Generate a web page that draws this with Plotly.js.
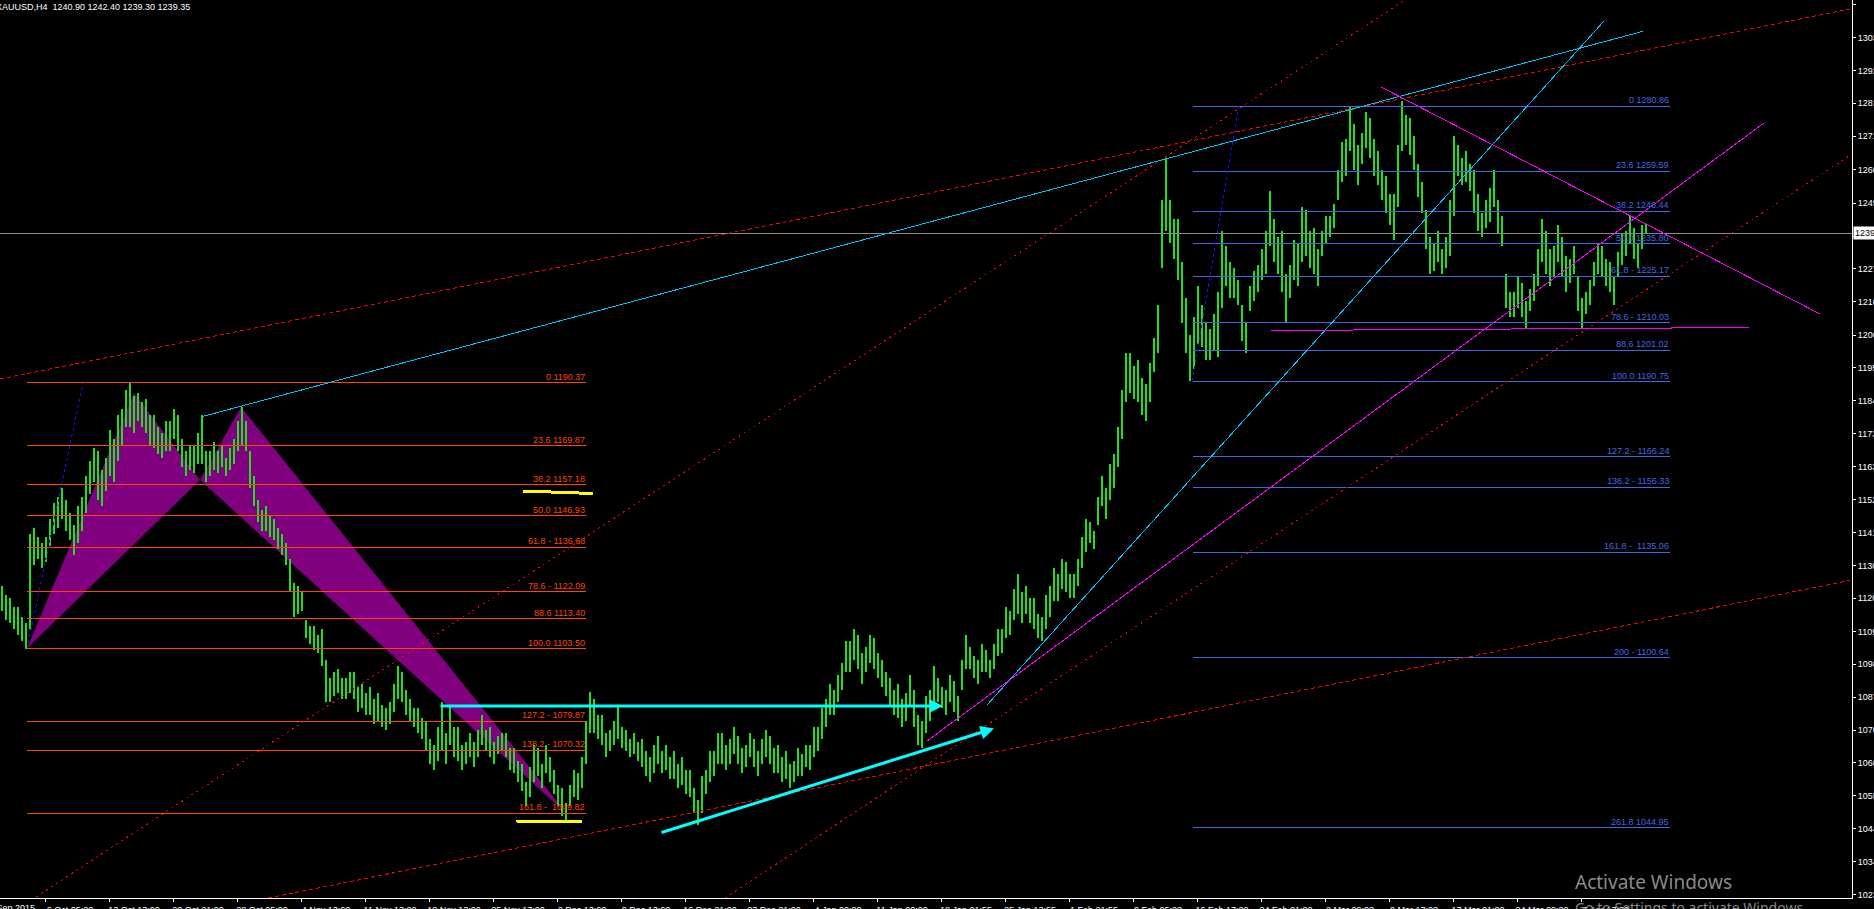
<!DOCTYPE html>
<html><head><meta charset="utf-8">
<script src="https://cdn.plot.ly/plotly-3.0.1.min.js"></script>
<style>
html,body{margin:0;padding:0;background:#000;overflow:hidden;}
#chart{width:1874px;height:909px;}
.scatterlayer path.js-line{shape-rendering:crispEdges;}
</style></head><body><div id="chart"></div>
<script>
// ---- price bars (each entry = 2 H4 bars), low / high ----
const lows = [
1116,1113,1112,1110,1108,1106,1103.5,1110,1131,1133,1130,1132,1137,1141,1143,1146,1142,1139,1134,1138,
1142,1148,1154,1158,1152,1150,1155,1160,1158,1165,1170,1176,1176,1174,1178,1176,1174,1170,1169,1167,
1166,1168,1168,1172,1168,1163,1160,1162,1161,1164,1164,1158,1160,1162,1161,1163,1160,1162,1164,1168,
1170,1168,1156,1150,1145,1142,1142,1140,1139,1136,1134,1131,1122,1114,1115,1116,1107,1105,1103,1102,
1098,1086,1086,1088,1089,1087,1087,1089,1087,1083,1084,1082,1082,1079,1080,1078,1077,1079,1083,1087,
1086,1082,1080,1078,1076,1074,1070,1066,1064,1067,1070,1066,1072,1068,1067,1064,1066,1068,1065,1068,
1072,1070,1068,1066,1069,1070,1068,1064,1063,1060,1057,1052,1055,1060,1062,1058,1063,1060,1056,1052,
1049,1046.5,1052,1055,1054,1058,1066,1076,1076,1074,1072,1068,1070,1072,1074,1071,1070,1068,1069,1067,
1065,1062,1060,1063,1066,1063,1064,1061,1061,1058,1059,1056,1055,1050,1046,1050,1056,1060,1062,1066,
1066,1064,1066,1069,1066,1063,1065,1068,1065,1062,1066,1068,1066,1063,1063,1060,1061,1058,1060,1062,
1062,1065,1064,1068,1070,1074,1078,1082,1082,1086,1090,1096,1096,1100,1097,1092,1096,1099,1097,1094,
1091,1088,1085,1082,1081,1078,1080,1085,1078,1072,1071,1076,1080,1086,1086,1084,1082,1086,1083,1080,
1090,1097,1097,1094,1092,1096,1096,1094,1097,1101,1102,1107,1108,1113,1115,1112,1115,1112,1110,1107,
1106,1110,1114,1119,1119,1123,1122,1120,1120,1124,1130,1135,1138,1136,1144,1150,1146,1152,1156,1163,
1172,1184,1187,1185,1184,1180,1178,1184,1194,1200,1228,1240,1236,1231,1224,1210,1200,1191,1195,1203,
1202,1198,1198,1201,1199,1215,1222,1218,1218,1216,1204,1200,1214,1217,1220,1224,1226,1235,1230,1226,
1220,1210,1218,1224,1222,1230,1232,1228,1226,1222,1232,1236,1238,1241,1250,1256,1258,1266,1260,1255,
1262,1267,1264,1258,1255,1250,1246,1242,1237,1248,1266,1268,1265,1260,1251,1246,1234,1226,1227,1230,
1226,1228,1232,1245,1258,1255,1256,1253,1246,1240,1238,1241,1243,1248,1239,1235,1215,1212,1212,1215,
1212,1208,1214,1217,1222,1230,1226,1222,1225,1230,1225,1220,1223,1226,1214,1208,1213,1216,1222,1226,
1225,1222,1220,1216,1225,1229,1232,1236,1231,1228,1234,1239.3];
const highs = [
1124,1121,1120,1117,1117,1114,1112,1141,1143,1140,1138,1140,1146,1151,1153,1156,1152,1148,1144,1150,
1153,1160,1165,1169,1168,1162,1166,1175,1172,1180,1182,1188,1190.4,1186,1187,1184,1185,1180,1180,1176,
1174,1178,1178,1182,1180,1172,1168,1170,1170,1174,1180,1168,1168,1171,1168,1170,1166,1169,1172,1178,
1182.5,1178,1168,1160,1152,1149,1150,1147,1146,1143,1141,1138,1133,1125,1124,1122,1113,1111,1111,1108,
1110,1100,1094,1096,1097,1094,1094,1096,1096,1091,1092,1089,1091,1087,1089,1085,1084,1086,1092,1098,
1096,1090,1087,1084,1084,1081,1080,1074,1072,1078,1086,1076,1085,1078,1078,1072,1073,1076,1073,1077,
1082,1077,1078,1073,1075,1076,1076,1071,1071,1067,1066,1060,1065,1072,1071,1066,1072,1068,1064,1059,
1058,1053,1059,1064,1063,1068,1080,1089.5,1087,1082,1082,1076,1077,1080,1085,1078,1077,1074,1076,1073,
1074,1070,1068,1072,1075,1070,1072,1068,1070,1066,1068,1064,1064,1058,1054,1062,1064,1070,1070,1076,
1076,1072,1074,1078,1075,1071,1072,1076,1074,1070,1074,1077,1075,1071,1072,1068,1070,1066,1067,1071,
1069,1072,1072,1078,1078,1084,1087,1092,1090,1095,1099,1106,1106,1110,1108,1102,1104,1108,1107,1102,
1100,1096,1094,1090,1092,1087,1089,1095,1090,1082,1080,1088,1090,1098,1094,1091,1090,1095,1093,1088,
1100,1108,1104,1101,1100,1105,1103,1100,1105,1110,1110,1117,1116,1123,1128,1122,1124,1120,1120,1115,
1114,1121,1124,1130,1128,1133,1132,1128,1128,1133,1140,1146,1145,1142,1153,1160,1156,1164,1167,1176,
1188,1200,1200,1196,1198,1192,1190,1197,1205,1216,1250,1263.5,1250,1244,1244,1230,1218,1206,1212,1222,
1216,1210,1208,1213,1220,1240,1235,1230,1228,1224,1216,1210,1222,1227,1229,1234,1240,1253,1244,1238,
1240,1226,1229,1237,1236,1248,1247,1240,1241,1234,1240,1245,1245,1249,1260,1269,1270,1280.8,1275,1268,
1272,1279,1277,1270,1266,1260,1258,1252,1252,1268,1282.5,1278,1277,1271,1262,1256,1247,1238,1236,1240,
1234,1238,1250,1271,1268,1264,1266,1262,1260,1252,1246,1250,1254,1260,1250,1245,1226,1220,1220,1225,
1223,1217,1221,1226,1234,1244,1240,1234,1235,1242,1238,1232,1231,1235,1225,1218,1220,1224,1230,1236,
1235,1231,1230,1225,1233,1239,1240,1245,1241,1236,1242,1242.4];
const lastPrice = 1239.35;

// ---- time axis (bar index, H4 bars) ----
const xTickVals = [22.5,54.5,86.5,118.5,150.5,182.5,214.5,246.5,278.5,310.5,342.5,374.5,406.5,438.5,470.5,502.5,534.5,566.5,598.5,630.5,662.5,694.5,726.5,758.5,790.5];
const xTickText = ['6 Oct 05:00','13 Oct 13:00','20 Oct 21:00','28 Oct 05:00','4 Nov 13:00','11 Nov 13:00','18 Nov 13:00','25 Nov 17:00','2 Dec 13:00','9 Dec 13:00','16 Dec 21:00','23 Dec 21:00','4 Jan 00:00','11 Jan 00:00','18 Jan 01:55','25 Jan 13:55','1 Feb 21:55','9 Feb 05:00','16 Feb 17:00','24 Feb 01:00','2 Mar 09:00','9 Mar 17:00','17 Mar 01:00','24 Mar 09:00','1 Apr 17:00'];
const firstDateLabel = '30 Sep 2015';

// ---- price axis ----
const yTickVals = [1023.21,1034.01,1044.75,1055.48,1066.22,1076.96,1087.70,1098.44,1109.17,1120.01,1130.75,1141.49,1152.23,1163.07,1173.81,1184.55,1195.29,1206.03,1216.87,1227.61,1238.35,1249.09,1260.03,1271.03,1281.77,1292.51,1303.25,1313.99];
const yTickText = yTickVals.map(v => v.toFixed(2));

// ---- Fibonacci retracements ----
const fibLeftLevels = [1190.37,1169.87,1157.18,1146.93,1136.68,1122.09,1113.40,1103.50,1079.87,1070.32,1049.82];
const fibLeftLabels = ['0 1190.37','23.6 1169.87','38.2 1157.18','50.0 1146.93','61.8 - 1136.68','78.6 - 1122.09','88.6 1113.40','100.0 1103.50','127.2 - 1079.87','138.2 - 1070.32','161.8 -\u00a0 1049.82'];
const fibLeftSpan = [13.45, 293];
const fibRightLevels = [1280.86,1259.59,1246.44,1235.80,1225.17,1210.03,1201.02,1190.75,1166.24,1156.33,1135.06,1100.64,1044.95];
const fibRightLabels = ['0 1280.86','23.6 1259.59','38.2 1246.44','50.0 1235.80','61.8 - 1225.17','78.6 - 1210.03','88.6 1201.02','100.0 1190.75','127.2 - 1166.24','138.2 - 1156.33','161.8 -\u00a0 1135.06','200 - 1100.64','261.8 1044.95'];
const fibRightSpan = [596.5, 835];

// ---- harmonic pattern X-A-B-C-D ----
const patternX = [13.5, 67, 100, 120.5, 284];
const patternY = [1103.6, 1187.1, 1158.66, 1182.5, 1049.2];

// ---- trend lines [x0,x1], [y0,y1] ----
const cyanUpperX = [100.85, 821.5],  cyanUpperY = [1179.34, 1305.27];
const cyanSteepX = [493.5, 802],     cyanSteepY = [1085.14, 1308.63];
const magentaRiseX = [463.5, 882],   magentaRiseY = [1073.37, 1275.3];
const magentaFallX = [690.5, 910],   magentaFallY = [1287.07, 1212.9];
const magentaFlatX = [635.5, 874.5], magentaFlatY = [1207.5, 1208.48];
const redAX = [0, 926],     redAY = [1191.66, 1312.68];
const redBX = [18, 702.5],  redBY = [1022.4, 1315.5];
const redCX = [362.5, 926], redCY = [1022.07, 1265.18];
const redDX = [134, 926],   redDY = [1022.07, 1125.98];
const blueLeftX = [13.5, 41.5],  blueLeftY = [1103.6, 1190.25];
const blueRightX = [596, 619.5], blueRightY = [1190.98, 1280.86];
const yellowAX = [261.5, 296.5], yellowAY = [1155.06, 1154.24];
const yellowBX = [258, 291],     yellowBY = [1047.23, 1046.9];

// ---- arrows ----
const arrowTailX = [219.5, 330],   arrowTailY = [1084.81, 1043.31];
const arrowHeadX = [471.5, 497],   arrowHeadY = [1084.81, 1077.46];

// ---------- build traces ----------
const FONT = 'Liberation Sans, Arial, sans-serif';
const traces = [];
function seg(x, y, color, width, dash) {
  traces.push({type:'scatter', mode:'lines', x:x, y:y, hoverinfo:'skip',
    line:{color:color, width:width, dash:dash||'solid'}});
}
// pattern triangles (background)
traces.push({type:'scatter', mode:'lines', x:[patternX[0],patternX[1],patternX[2],patternX[0]],
  y:[patternY[0],patternY[1],patternY[2],patternY[0]], fill:'toself', fillcolor:'#800080', line:{width:0}, hoverinfo:'skip'});
traces.push({type:'scatter', mode:'lines', x:[patternX[2],patternX[3],patternX[4],patternX[2]],
  y:[patternY[2],patternY[3],patternY[4],patternY[2]], fill:'toself', fillcolor:'#800080', line:{width:0}, hoverinfo:'skip'});

// bars
const barIndex = lows.map((_, i) => 1 + 2 * i);
const bx = [], by = [];
lows.forEach((lo, i) => { bx.push(barIndex[i], barIndex[i], null); by.push(lo, highs[i], null); });
seg(bx, by, '#1EE01E', 1.6);

// current price line
seg([0, 926], [lastPrice, lastPrice], '#8a8a8a', 1);

// fib lines
function fibLines(levels, span, color) {
  const x = [], y = [];
  levels.forEach(l => { x.push(span[0], span[1], null); y.push(l, l, null); });
  seg(x, y, color, 1);
}
fibLines(fibLeftLevels, fibLeftSpan, '#FF4500');
fibLines(fibRightLevels, fibRightSpan, '#4169E1');

// trend lines
seg(redAX, redAY, '#FF0000', 1, '4px,3px');
seg(redBX, redBY, '#FF0000', 1, '2px,4px');
seg(redCX, redCY, '#FF0000', 1, '2px,4px');
seg(redDX, redDY, '#FF0000', 1, '4px,3px');
seg(blueLeftX, blueLeftY, '#1010FF', 1, '3px,3px');
seg(blueRightX, blueRightY, '#1010FF', 1, '3px,3px');
seg(cyanUpperX, cyanUpperY, '#00BFFF', 1);
seg(cyanSteepX, cyanSteepY, '#00BFFF', 1);
seg(magentaRiseX, magentaRiseY, '#FF00FF', 1);
seg(magentaFallX, magentaFallY, '#FF00FF', 1);
seg(magentaFlatX, magentaFlatY, '#FF00FF', 1);
seg(yellowAX, yellowAY, '#FFFF00', 3);
seg(yellowBX, yellowBY, '#FFFF00', 3);

// ---------- annotations ----------
const ann = [];
fibLeftLevels.forEach((l, i) => ann.push({x: fibLeftSpan[1], y: l, xref:'x', yref:'y', xanchor:'right', yanchor:'bottom',
  text: fibLeftLabels[i], showarrow:false, font:{family:FONT, size:9, color:'#FF4500'}, borderpad:0}));
fibRightLevels.forEach((l, i) => ann.push({x: fibRightSpan[1], y: l, xref:'x', yref:'y', xanchor:'right', yanchor:'bottom',
  text: fibRightLabels[i], showarrow:false, font:{family:FONT, size:9, color:'#4169E1'}, borderpad:0}));
arrowHeadX.forEach((hx, i) => ann.push({x: hx, y: arrowHeadY[i], ax: arrowTailX[i], ay: arrowTailY[i],
  xref:'x', yref:'y', axref:'x', ayref:'y', showarrow:true, arrowhead:2, arrowsize:0.9, arrowwidth:3,
  arrowcolor:'#00FFFF', text:''}));
// header
ann.push({xref:'paper', yref:'paper', x:-6/1852, y:1, xanchor:'left', yanchor:'top', showarrow:false,
  text:'XAUUSD,H4\u00a0\u00a01240.90 1242.40 1239.30 1239.35', font:{family:FONT, size:9, color:'#ffffff'}});
// current price box
ann.push({xref:'paper', yref:'y', x:1, y:lastPrice, xanchor:'left', yanchor:'middle', xshift:1, showarrow:false,
  text:'1239.35', bgcolor:'#ffffff', borderpad:1, font:{family:FONT, size:9, color:'#000000'}});
// first (cut) date label
ann.push({xref:'paper', yref:'paper', x:-18/1852, y:0, yshift:-3, xanchor:'left', yanchor:'top', showarrow:false,
  text:firstDateLabel, font:{family:FONT, size:9, color:'#ffffff'}});
// OS watermark
ann.push({xref:'paper', yref:'paper', x:1573/1852, y:(898-882)/898, xanchor:'left', yanchor:'middle', showarrow:false,
  text:'Activate Windows', font:{family:'Noto Sans, sans-serif', size:19, color:'#8a8a8a'}});
ann.push({xref:'paper', yref:'paper', x:1573/1852, y:(898-896)/898, xanchor:'left', yanchor:'top', showarrow:false,
  text:'Go to Settings to activate Windows.', font:{family:'Noto Sans, sans-serif', size:14, color:'#8a8a8a'}});

const layout = {
  width:1874, height:909,
  margin:{l:0, r:22, t:0, b:11, pad:0},
  paper_bgcolor:'#000000', plot_bgcolor:'#000000',
  showlegend:false, hovermode:false,
  font:{family:FONT, size:9, color:'#ffffff'},
  xaxis:{range:[0, 926], showgrid:false, zeroline:false, showline:true, linecolor:'#ffffff', linewidth:1,
    ticks:'outside', ticklen:3, tickcolor:'#ffffff', tickwidth:1,
    tickmode:'array', tickvals:xTickVals, ticktext:xTickText, ticklabelshift:25,
    tickfont:{family:FONT, size:9, color:'#ffffff'}, fixedrange:true},
  yaxis:{range:[1022.07, 1315.5], side:'right', showgrid:false, zeroline:false, showline:true, linecolor:'#ffffff', linewidth:1,
    ticks:'outside', ticklen:3, tickcolor:'#ffffff', tickwidth:1,
    tickmode:'array', tickvals:yTickVals, ticktext:yTickText,
    tickfont:{family:FONT, size:9, color:'#ffffff'}, fixedrange:true},
  annotations: ann
};
Plotly.newPlot('chart', traces, layout, {staticPlot:true, displayModeBar:false});
</script></body></html>
